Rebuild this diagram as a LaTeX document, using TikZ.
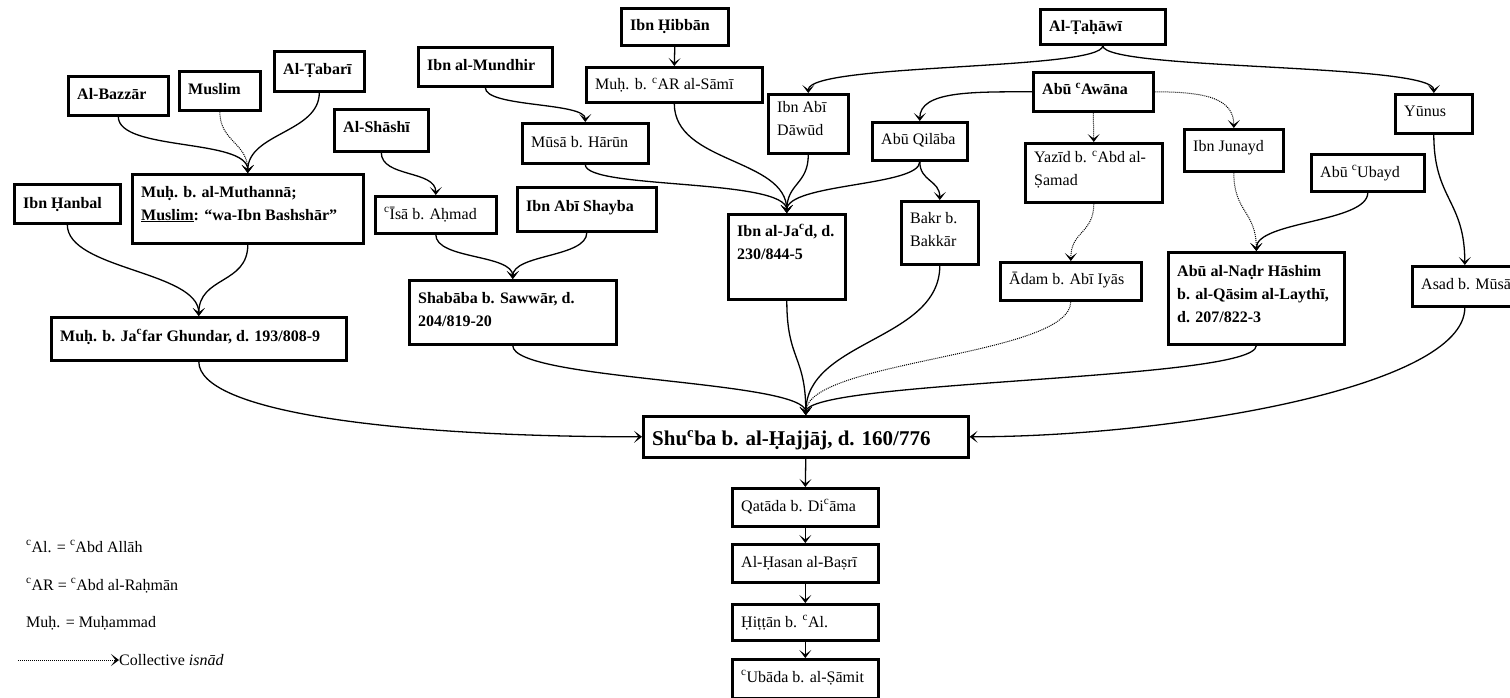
\documentclass[tikz,border=0pt]{standalone}
\usepackage{fontspec}
\setmainfont{Liberation Serif}
\usetikzlibrary{arrows.meta}
\newcommand\ayn{\textsuperscript{c}}
\newcommand\stack[1]{\begin{tabular}[t]{@{}l@{}}#1\end{tabular}}
\newcommand\rmn{\fontsize{16}{23}\selectfont}
\newcommand\bfn{\fontsize{16}{23}\selectfont\bfseries}
\newcommand\bigbf{\fontsize{21}{25}\selectfont\bfseries}
\tikzset{
  frame/.style={draw, line width=2.6pt, inner sep=0pt, anchor=north west},
  txt/.style={anchor=base west, inner sep=0pt},
  tip/.style={-{Stealth[length=8pt,width=12pt,inset=4.5pt]}},
  conn/.style={tip, line width=1.3pt},
  coll/.style={tip, line width=1pt, dash pattern=on 1pt off 1pt},
}
% #1 name, #2 x, #3 y (top left), #4 width, #5 height,
% #6 first baseline below the top, #7 font, #8 text
\newcommand\bx[8]{%
  \node[frame, minimum width=#4pt, minimum height=#5pt] (#1) at (#2,#3) {};
  \node[txt, font=#7] (#1-t) at ([shift={(10,#6)}]#1.north west) {\stack{#8}};}
\begin{document}
\begin{tikzpicture}[x=1pt,y=-1pt]
\useasboundingbox (0,0) rectangle (1510,698);

% transmitters
\bx{bazz}{67}{75}{100}{39}{25}{\bfn}{Al-Bazzār}
\bx{muslim}{178}{70}{81}{39}{25}{\bfn}{Muslim}
\bx{tabari}{273}{50}{90}{40}{25}{\bfn}{Al-Ṭabarī}
\bx{hanbal}{13}{183}{106}{39}{25}{\bfn}{Ibn Ḥanbal}
\bx{muth}{131}{173}{231}{69}{24}{\bfn}{Muḥ. b. al-Muthannā;\\\underline{Muslim}: “wa-Ibn Bashshār”}
\bx{ghundar}{50}{316}{295}{43}{25}{\bfn}{Muḥ. b. Ja\ayn far Ghundar, d. 193/808-9}
\bx{shashi}{333}{108}{94}{42}{25}{\bfn}{Al-Shāshī}
\bx{isa}{374}{195}{121}{37}{24}{\rmn}{\ayn Īsā b. Aḥmad}
\bx{shayba}{516}{186}{139}{44}{25}{\bfn}{Ibn Abī Shayba}
\bx{shababa}{408}{279}{207}{64}{24}{\bfn}{Shabāba b. Sawwār, d.\\204/819-20}
\bx{mundhir}{417}{46}{134}{39}{25}{\bfn}{Ibn al-Mundhir}
\bx{musa}{521}{122}{126}{40}{25}{\rmn}{Mūsā b. Hārūn}
\bx{hibban}{620}{7}{107}{37}{24}{\bfn}{Ibn Ḥibbān}
\bx{sami}{585}{66}{176}{35}{24}{\rmn}{Muḥ. b. \ayn AR al-Sāmī}
\bx{dawud}{767}{93}{80}{59}{20}{\rmn}{Ibn Abī\\Dāwūd}
\bx{qilaba}{871}{121}{95}{38}{24}{\rmn}{Abū Qilāba}
\bx{jad}{727}{213}{117}{85}{23}{\bfn}{Ibn al-Ja\ayn d, d.\\230/844-5}
\bx{bakr}{900}{200}{77}{63}{23}{\rmn}{Bakr b.\\Bakkār}
\bx{tahawi}{1039}{8}{125}{35}{24}{\bfn}{Al-Ṭaḥāwī}
\bx{awana}{1032}{71}{120}{39}{24}{\bfn}{Abū \ayn Awāna}
\bx{yazid}{1024}{142}{137}{59}{21}{\rmn}{Yazīd b. \ayn Abd al-\\Ṣamad}
\bx{adam}{999}{261}{141}{38}{23}{\rmn}{Ādam b. Abī Iyās}
\bx{junayd}{1183}{128}{99}{42}{24}{\rmn}{Ibn Junayd}
\bx{ubayd}{1310}{153}{113}{37}{24}{\rmn}{Abū \ayn Ubayd}
\bx{nadr}{1167}{251}{176}{92}{25}{\bfn}{Abū al-Naḍr Hāshim\\b. al-Qāsim al-Laythī,\\d. 207/822-3}
\bx{yunus}{1394}{93}{77}{39}{24}{\rmn}{Yūnus}
\bx{asad}{1411}{265}{105}{40}{24}{\rmn}{Asad b. Mūsā}

% common link and the chain below it
\bx{shuba}{642}{415}{325}{41}{30}{\bigbf}{Shu\ayn ba b. al-Ḥajjāj, d. 160/776}
\bx{qatada}{731}{487}{146}{38}{24}{\rmn}{Qatāda b. Di\ayn āma}
\bx{hasan}{731}{543}{146}{38}{24}{\rmn}{Al-Ḥasan al-Baṣrī}
\bx{hittan}{731}{603}{146}{36}{24}{\rmn}{Ḥiṭṭān b. \ayn Al.}
\bx{ubada}{731}{658}{146}{39}{24}{\rmn}{\ayn Ubāda b. al-Ṣāmit}

% connectors
\draw[conn] (bazz.south) .. controls +(0,35) and +(0,-35) .. (muth.north);
\draw[coll] (muslim.south) .. controls +(0,30) and +(0,-30) .. (muth.north);
\draw[conn] (tabari.south) .. controls +(0,40) and +(0,-40) .. (muth.north);
\draw[conn] (hanbal.south) .. controls +(0,45) and +(0,-45) .. (ghundar.north);
\draw[conn] (muth.south) .. controls +(0,40) and +(0,-40) .. (ghundar.north);
\draw[conn] (shashi.south) .. controls +(0,25) and +(0,-25) .. (isa.north);
\draw[conn] (isa.south) .. controls +(0,25) and +(0,-25) .. (shababa.north);
\draw[conn] (shayba.south) .. controls +(0,25) and +(0,-25) .. (shababa.north);
\draw[conn] (mundhir.south) .. controls +(0,20) and +(0,-20) .. (musa.north);
\draw[conn] (hibban.south) -- (sami.north);
\draw[conn] (musa.south) .. controls +(0,25) and +(0,-35) .. (jad.north);
\draw[conn] (sami.south) .. controls +(0,60) and +(0,-55) .. (jad.north);
\draw[conn] (dawud.south) .. controls +(0,30) and +(0,-30) .. (jad.north);
\draw[conn] (qilaba.south) .. controls +(0,25) and +(0,-30) .. (jad.north);
\draw[conn] (qilaba.south) .. controls +(0,20) and +(0,-20) .. (bakr.north);
\draw[conn] (tahawi.south) .. controls +(0,25) and +(0,-30) .. (dawud.north);
\draw[conn] (tahawi.south) .. controls +(0,25) and +(0,-30) .. (yunus.north);
\draw[conn] (awana.west) .. controls +(-60,0) and +(0,-30) .. (qilaba.north);
\draw[coll] (awana.south) -- (yazid.north);
\draw[coll] (awana.east) .. controls +(50,0) and +(0,-30) .. (junayd.north);
\draw[coll] (yazid.south) .. controls +(0,30) and +(0,-30) .. (adam.north);
\draw[coll] (junayd.south) .. controls +(0,40) and +(0,-40) .. (nadr.north);
\draw[conn] (ubayd.south) .. controls +(0,30) and +(0,-30) .. (nadr.north);
\draw[conn] (yunus.south) .. controls +(0,65) and +(0,-65) .. (asad.north);

\draw[conn] (ghundar.south) .. controls +(0,50) and +(-250,0) .. (shuba.west);
\draw[conn] (shababa.south) .. controls +(0,35) and +(0,-35) .. (shuba.north);
\draw[conn] (jad.south) .. controls +(0,60) and +(0,-60) .. (shuba.north);
\draw[conn] (bakr.south) .. controls +(0,75) and +(0,-75) .. (shuba.north);
\draw[coll] (adam.south) .. controls +(0,55) and +(0,-55) .. (shuba.north);
\draw[conn] (nadr.south) .. controls +(0,35) and +(0,-35) .. (shuba.north);
\draw[conn] (asad.south) .. controls +(0,80) and +(200,0) .. (shuba.east);

\draw[conn] (shuba.south) -- (qatada.north);
\draw[conn] (qatada.south) -- (hasan.north);
\draw[conn] (hasan.south) -- (hittan.north);
\draw[conn] (hittan.south) -- (ubada.north);

% key
\node[txt, font=\rmn] (leg1) at (26,552) {\ayn Al. = \ayn Abd Allāh};
\node[txt, font=\rmn] (leg2) at (26,590) {\ayn AR = \ayn Abd al-Raḥmān};
\node[txt, font=\rmn] (leg3) at (26,627) {Muḥ. = Muḥammad};
\node[txt, font=\rmn] (leg4) at (119,665) {Collective \textit{isnād}};
\coordinate (legs) at (18,660);
\draw[coll] (legs) -- (legs -| leg4.west);
\end{tikzpicture}
\end{document}
